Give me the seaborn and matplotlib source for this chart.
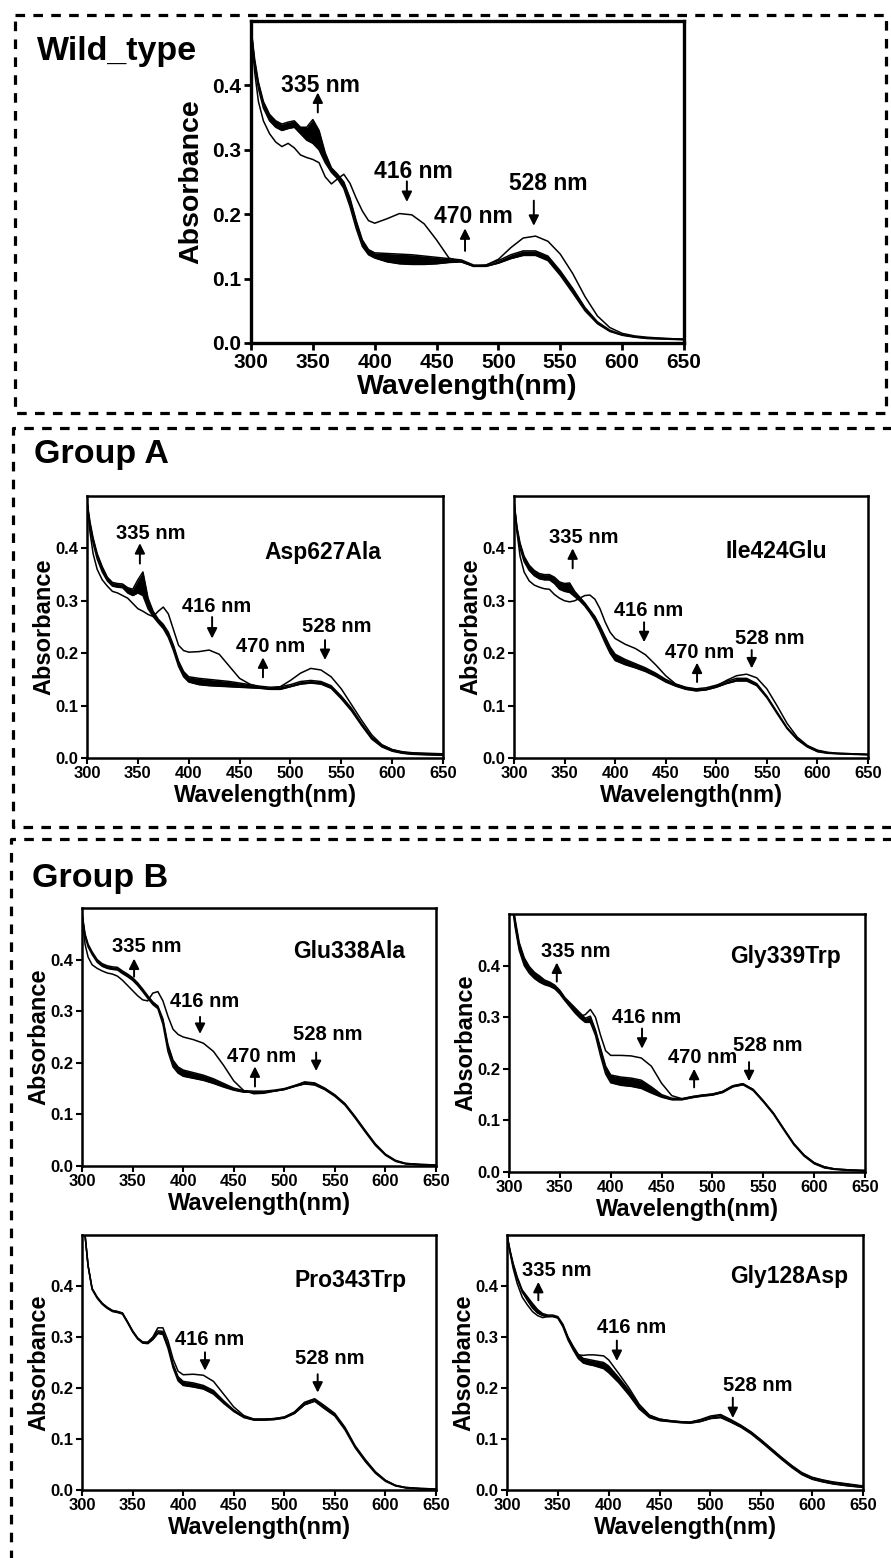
import pandas as pd
import seaborn as sns
import matplotlib.pyplot as plt
from matplotlib.lines import Line2D

# shared wavelength grid (nm)
wavelength = [300, 303, 306, 310, 315, 320, 325, 330, 335, 340, 345, 350, 355,
              360, 365, 370, 375, 380, 385, 390, 395, 400,
              410, 420, 430, 440, 450, 460, 470, 480, 490, 500,
              510, 520, 530, 540, 550, 560, 570, 580, 590, 600,
              610, 620, 635, 650]
x_ticks = [300, 350, 400, 450, 500, 550, 600, 650]
y_ticks = [0.0, 0.1, 0.2, 0.3, 0.4]

# Wild type: upper / lower edge of the time series band, and the first scan
wt_hi = [0.490, 0.440, 0.405, 0.375, 0.355, 0.345, 0.340, 0.343, 0.345, 0.335, 0.335, 0.347, 0.330,
         0.295, 0.272, 0.262, 0.250, 0.225, 0.190, 0.160, 0.145, 0.140,
         0.139, 0.138, 0.137, 0.135, 0.133, 0.131, 0.129, 0.121, 0.121, 0.128,
         0.137, 0.143, 0.143, 0.135, 0.112, 0.085, 0.055, 0.033, 0.020, 0.013,
         0.010, 0.008, 0.007, 0.006]
wt_lo = [0.490, 0.430, 0.395, 0.365, 0.345, 0.335, 0.330, 0.333, 0.335, 0.325, 0.315, 0.310, 0.300,
         0.280, 0.265, 0.255, 0.240, 0.212, 0.178, 0.150, 0.137, 0.132,
         0.126, 0.123, 0.122, 0.122, 0.123, 0.125, 0.126, 0.119, 0.119, 0.124,
         0.131, 0.136, 0.136, 0.128, 0.105, 0.078, 0.050, 0.030, 0.018, 0.012,
         0.009, 0.007, 0.006, 0.005]
wt_first = [0.490, 0.420, 0.375, 0.345, 0.325, 0.312, 0.305, 0.310, 0.303, 0.292, 0.288, 0.285, 0.280,
            0.258, 0.247, 0.255, 0.262, 0.248, 0.225, 0.205, 0.190, 0.186,
            0.193, 0.201, 0.199, 0.185, 0.160, 0.132, 0.126, 0.119, 0.121, 0.130,
            0.148, 0.163, 0.166, 0.158, 0.138, 0.108, 0.072, 0.042, 0.024, 0.015,
            0.011, 0.009, 0.007, 0.006]

# Group A
asp627_hi = [0.490, 0.450, 0.420, 0.390, 0.365, 0.345, 0.335, 0.333, 0.332, 0.325, 0.322, 0.340, 0.355,
             0.305, 0.280, 0.265, 0.255, 0.240, 0.215, 0.185, 0.165, 0.155,
             0.152, 0.150, 0.148, 0.146, 0.143, 0.140, 0.137, 0.135, 0.136, 0.140,
             0.146, 0.148, 0.146, 0.138, 0.118, 0.095, 0.066, 0.040, 0.025, 0.016,
             0.012, 0.010, 0.009, 0.008]
asp627_lo = [0.490, 0.440, 0.410, 0.380, 0.355, 0.338, 0.328, 0.326, 0.325, 0.315, 0.310, 0.315, 0.310,
             0.285, 0.270, 0.258, 0.247, 0.230, 0.205, 0.175, 0.155, 0.145,
             0.140, 0.138, 0.137, 0.136, 0.135, 0.134, 0.133, 0.131, 0.131, 0.136,
             0.141, 0.143, 0.141, 0.133, 0.113, 0.090, 0.062, 0.036, 0.021, 0.013,
             0.009, 0.007, 0.006, 0.005]
asp627_first = [0.490, 0.430, 0.390, 0.360, 0.340, 0.328, 0.318, 0.315, 0.310, 0.305, 0.295, 0.285, 0.280,
                0.274, 0.270, 0.280, 0.288, 0.275, 0.245, 0.215, 0.205, 0.202,
                0.203, 0.206, 0.198, 0.175, 0.152, 0.141, 0.135, 0.132, 0.136, 0.148,
                0.162, 0.171, 0.168, 0.155, 0.132, 0.102, 0.072, 0.044, 0.025, 0.016,
                0.011, 0.009, 0.008, 0.007]

ile424_hi = [0.490, 0.440, 0.410, 0.385, 0.368, 0.358, 0.352, 0.350, 0.350, 0.345, 0.336, 0.333, 0.334,
             0.318, 0.307, 0.296, 0.283, 0.270, 0.252, 0.232, 0.212, 0.198,
             0.188, 0.180, 0.172, 0.162, 0.150, 0.141, 0.135, 0.132, 0.134, 0.139,
             0.146, 0.152, 0.152, 0.142, 0.118, 0.088, 0.058, 0.037, 0.023, 0.014,
             0.010, 0.009, 0.008, 0.007]
ile424_lo = [0.490, 0.435, 0.400, 0.375, 0.358, 0.348, 0.342, 0.340, 0.340, 0.333, 0.322, 0.318, 0.316,
             0.308, 0.300, 0.290, 0.277, 0.262, 0.242, 0.220, 0.200, 0.186,
             0.178, 0.172, 0.165, 0.156, 0.145, 0.137, 0.131, 0.128, 0.130, 0.135,
             0.142, 0.147, 0.147, 0.138, 0.115, 0.085, 0.056, 0.035, 0.021, 0.012,
             0.009, 0.008, 0.007, 0.006]
ile424_first = [0.490, 0.430, 0.385, 0.355, 0.338, 0.330, 0.326, 0.323, 0.322, 0.312, 0.305, 0.300, 0.298,
                0.300, 0.305, 0.310, 0.311, 0.303, 0.285, 0.260, 0.240, 0.228,
                0.217, 0.209, 0.197, 0.178, 0.157, 0.141, 0.134, 0.130, 0.131, 0.137,
                0.148, 0.157, 0.160, 0.153, 0.132, 0.100, 0.066, 0.040, 0.024, 0.015,
                0.011, 0.009, 0.008, 0.007]

# Group B
glu338_hi = [0.490, 0.450, 0.430, 0.415, 0.400, 0.392, 0.388, 0.386, 0.385, 0.378, 0.372, 0.365, 0.355,
             0.343, 0.330, 0.318, 0.310, 0.285, 0.235, 0.205, 0.192, 0.186,
             0.181, 0.176, 0.169, 0.160, 0.151, 0.146, 0.145, 0.145, 0.147, 0.150,
             0.156, 0.162, 0.160, 0.150, 0.137, 0.120, 0.095, 0.068, 0.042, 0.022,
             0.010, 0.005, 0.003, 0.002]
glu338_lo = [0.490, 0.445, 0.425, 0.410, 0.395, 0.387, 0.383, 0.381, 0.380, 0.373, 0.367, 0.360, 0.350,
             0.338, 0.325, 0.313, 0.305, 0.275, 0.222, 0.192, 0.180, 0.174,
             0.170, 0.166, 0.160, 0.153, 0.147, 0.143, 0.143, 0.143, 0.145, 0.148,
             0.154, 0.159, 0.157, 0.148, 0.135, 0.118, 0.093, 0.066, 0.040, 0.021,
             0.009, 0.004, 0.002, 0.001]
glu338_first = [0.490, 0.430, 0.405, 0.390, 0.383, 0.378, 0.374, 0.372, 0.368, 0.360, 0.350, 0.340, 0.330,
                0.322, 0.320, 0.335, 0.338, 0.320, 0.290, 0.265, 0.255, 0.250,
                0.245, 0.238, 0.222, 0.195, 0.165, 0.146, 0.140, 0.141, 0.145, 0.149,
                0.155, 0.163, 0.161, 0.151, 0.138, 0.121, 0.096, 0.069, 0.043, 0.023,
                0.011, 0.005, 0.003, 0.002]

gly339_hi = [0.560, 0.530, 0.490, 0.445, 0.415, 0.398, 0.387, 0.380, 0.372, 0.368, 0.362, 0.352, 0.338,
             0.328, 0.318, 0.308, 0.298, 0.302, 0.275, 0.240, 0.205, 0.188,
             0.184, 0.182, 0.178, 0.165, 0.150, 0.143, 0.142, 0.146, 0.149, 0.151,
             0.156, 0.167, 0.171, 0.160, 0.138, 0.114, 0.084, 0.055, 0.033, 0.018,
             0.010, 0.006, 0.004, 0.003]
gly339_lo = [0.560, 0.520, 0.475, 0.430, 0.400, 0.385, 0.375, 0.368, 0.363, 0.360, 0.355, 0.345, 0.332,
             0.320, 0.308, 0.298, 0.290, 0.290, 0.265, 0.225, 0.190, 0.173,
             0.168, 0.166, 0.162, 0.153, 0.145, 0.140, 0.140, 0.144, 0.147, 0.149,
             0.154, 0.165, 0.169, 0.158, 0.136, 0.112, 0.082, 0.053, 0.031, 0.016,
             0.008, 0.005, 0.003, 0.002]
gly339_first = [0.560, 0.525, 0.480, 0.435, 0.405, 0.390, 0.380, 0.372, 0.366, 0.362, 0.357, 0.347, 0.334,
                0.323, 0.312, 0.302, 0.305, 0.315, 0.300, 0.265, 0.235, 0.226,
                0.226, 0.225, 0.221, 0.205, 0.172, 0.148, 0.142, 0.146, 0.149, 0.151,
                0.156, 0.167, 0.171, 0.160, 0.138, 0.114, 0.084, 0.055, 0.033, 0.018,
                0.010, 0.006, 0.004, 0.003]

pro343_hi = [0.560, 0.500, 0.440, 0.395, 0.378, 0.366, 0.358, 0.352, 0.350, 0.347, 0.330, 0.312, 0.298,
             0.290, 0.289, 0.298, 0.312, 0.311, 0.285, 0.247, 0.222, 0.213,
             0.210, 0.205, 0.195, 0.175, 0.157, 0.144, 0.139, 0.139, 0.140, 0.143,
             0.152, 0.170, 0.177, 0.162, 0.148, 0.121, 0.085, 0.058, 0.035, 0.019,
             0.009, 0.005, 0.003, 0.002]
pro343_lo = [0.560, 0.500, 0.440, 0.393, 0.376, 0.364, 0.356, 0.350, 0.348, 0.345, 0.328, 0.310, 0.296,
             0.288, 0.287, 0.295, 0.307, 0.305, 0.278, 0.240, 0.214, 0.205,
             0.202, 0.198, 0.188, 0.170, 0.154, 0.142, 0.137, 0.137, 0.138, 0.141,
             0.150, 0.167, 0.174, 0.159, 0.145, 0.118, 0.083, 0.056, 0.033, 0.017,
             0.008, 0.004, 0.002, 0.001]
pro343_first = [0.560, 0.500, 0.440, 0.395, 0.378, 0.366, 0.358, 0.352, 0.350, 0.347, 0.330, 0.312, 0.298,
                0.290, 0.290, 0.300, 0.318, 0.318, 0.293, 0.257, 0.233, 0.226,
                0.227, 0.225, 0.213, 0.188, 0.163, 0.146, 0.139, 0.139, 0.140, 0.143,
                0.153, 0.172, 0.179, 0.165, 0.150, 0.123, 0.087, 0.060, 0.036, 0.019,
                0.009, 0.005, 0.003, 0.002]

gly128_hi = [0.500, 0.470, 0.445, 0.418, 0.392, 0.379, 0.366, 0.354, 0.346, 0.343, 0.343, 0.340, 0.325,
             0.300, 0.282, 0.266, 0.258, 0.256, 0.254, 0.252, 0.250, 0.243,
             0.220, 0.195, 0.165, 0.146, 0.139, 0.136, 0.134, 0.133, 0.137, 0.143,
             0.146, 0.136, 0.126, 0.113, 0.097, 0.080, 0.063, 0.047, 0.033, 0.024,
             0.019, 0.015, 0.011, 0.007]
gly128_lo = [0.500, 0.468, 0.440, 0.414, 0.388, 0.372, 0.357, 0.347, 0.342, 0.340, 0.340, 0.337, 0.320,
             0.294, 0.275, 0.258, 0.249, 0.246, 0.244, 0.241, 0.238, 0.230,
             0.210, 0.186, 0.159, 0.142, 0.136, 0.134, 0.132, 0.131, 0.134, 0.140,
             0.142, 0.133, 0.123, 0.110, 0.094, 0.077, 0.060, 0.044, 0.030, 0.021,
             0.016, 0.012, 0.008, 0.005]
gly128_first = [0.500, 0.465, 0.435, 0.405, 0.378, 0.363, 0.350, 0.342, 0.338, 0.340, 0.341, 0.338, 0.322,
                0.298, 0.280, 0.265, 0.264, 0.265, 0.265, 0.264, 0.263, 0.255,
                0.228, 0.200, 0.168, 0.147, 0.139, 0.136, 0.134, 0.133, 0.138, 0.145,
                0.148, 0.138, 0.127, 0.114, 0.098, 0.081, 0.064, 0.048, 0.034, 0.025,
                0.020, 0.016, 0.012, 0.008]

# layout: axes box in pixels (left, right, top, bottom), mutant label + position,
# and arrow annotations (text, text_x, text_y, arrow_x, arrow_from, arrow_to)
panels = [
    dict(series=(wt_hi, wt_lo, wt_first), box=(251, 684, 21, 343), big=True,
         name=None,
         notes=[("335 nm", 356, 0.400, 354, 0.358, 0.389),
                ("416 nm", 431, 0.266, 426, 0.251, 0.219),
                ("470 nm", 479.5, 0.196, 473, 0.143, 0.178),
                ("528 nm", 540, 0.248, 528.6, 0.221, 0.182)]),
    dict(series=(asp627_hi, asp627_lo, asp627_first), box=(87, 443, 496, 758), big=False,
         name=("Asp627Ala", 532, 0.392),
         notes=[("335 nm", 363, 0.428, 352, 0.371, 0.410),
                ("416 nm", 427, 0.290, 423, 0.269, 0.228),
                ("470 nm", 481, 0.212, 473, 0.154, 0.192),
                ("528 nm", 546, 0.251, 534, 0.225, 0.187)]),
    dict(series=(ile424_hi, ile424_lo, ile424_first), box=(514, 868, 496, 758), big=False,
         name=("Ile424Glu", 559, 0.394),
         notes=[("335 nm", 369, 0.421, 358, 0.362, 0.400),
                ("416 nm", 433.5, 0.282, 428.6, 0.259, 0.221),
                ("470 nm", 484, 0.202, 481, 0.145, 0.182),
                ("528 nm", 553, 0.229, 535, 0.206, 0.171)]),
    dict(series=(glu338_hi, glu338_lo, glu338_first), box=(82, 436, 908, 1166), big=False,
         name=("Glu338Ala", 564, 0.415),
         notes=[("335 nm", 364, 0.425, 351.5, 0.367, 0.402),
                ("416 nm", 421.7, 0.318, 416.7, 0.289, 0.256),
                ("470 nm", 478, 0.213, 471, 0.154, 0.193),
                ("528 nm", 543, 0.254, 531.5, 0.220, 0.184)]),
    dict(series=(gly339_hi, gly339_lo, gly339_first), box=(509, 865, 914, 1172), big=False,
         name=("Gly339Trp", 572, 0.418),
         notes=[("335 nm", 366, 0.427, 347, 0.369, 0.406),
                ("416 nm", 435.7, 0.300, 430.8, 0.278, 0.239),
                ("470 nm", 490, 0.221, 482, 0.164, 0.200),
                ("528 nm", 554.6, 0.245, 536, 0.213, 0.176)]),
    dict(series=(pro343_hi, pro343_lo, pro343_first), box=(82, 436, 1235, 1490), big=False,
         name=("Pro343Trp", 565.5, 0.411),
         notes=[("416 nm", 425.9, 0.296, 421.6, 0.270, 0.234),
                ("528 nm", 545, 0.258, 533, 0.227, 0.191)]),
    dict(series=(gly128_hi, gly128_lo, gly128_first), box=(507, 863, 1235, 1490), big=False,
         name=("Gly128Asp", 577.5, 0.418),
         notes=[("335 nm", 348.5, 0.431, 330.8, 0.372, 0.408),
                ("416 nm", 423, 0.318, 408, 0.293, 0.253),
                ("528 nm", 546.7, 0.205, 522, 0.181, 0.141)]),
]

W, H = 891, 1558
sns.set_theme(style="ticks")
plt.rcParams["font.family"] = ["Liberation Sans", "DejaVu Sans"]
plt.rcParams["font.weight"] = "bold"
plt.rcParams["axes.labelweight"] = "bold"
for key in ("text.color", "axes.labelcolor", "xtick.color", "ytick.color",
            "xtick.labelcolor", "ytick.labelcolor", "axes.edgecolor"):
    plt.rcParams[key] = "black"

fig = plt.figure(figsize=(W / 100, H / 100), dpi=100)
fig.patch.set_facecolor("white")


def fx(px):
    return px / W


def fy(py):
    return 1 - py / H


for p in panels:
    l, r, t, b = p["box"]
    ax = fig.add_axes([fx(l), fy(b), fx(r - l), (b - t) / H])
    hi, lo, first = p["series"]
    df = pd.DataFrame({
        "wl": wavelength * 3,
        "A": hi + lo + first,
        "trace": ["hi"] * len(hi) + ["lo"] * len(lo) + ["first"] * len(first),
    })
    ax.fill_between(wavelength, lo, hi, color="black", lw=0)
    sns.lineplot(data=df, x="wl", y="A", units="trace", estimator=None,
                 color="black", linewidth=1.1, sort=False, legend=False, ax=ax)

    big = p["big"]
    tick_fs = 15 if big else 12
    lab_fs = 20.5 if big else 17
    note_fs = 16.5 if big else 14.5
    ax.set_xlim(300, 650)
    ax.set_ylim(0, 0.5)
    ax.set_xticks(x_ticks)
    ax.set_yticks(y_ticks)
    ax.set_yticklabels([f"{v:.1f}" for v in y_ticks])
    ax.tick_params(direction="out", length=5 if big else 4, width=2 if big else 1.5,
                   labelsize=tick_fs, pad=2, top=False, right=False,
                   color="black", labelcolor="black")
    for s in ax.spines.values():
        s.set_linewidth(2.4 if big else 1.8)
        s.set_color("black")
    ax.set_xlabel("Wavelength(nm)", fontsize=lab_fs, labelpad=2, color="black")
    ax.set_ylabel("Absorbance", fontsize=lab_fs, labelpad=6 if big else 0.5, color="black")

    if p["name"] is not None:
        txt, tx, ty = p["name"]
        ax.text(tx, ty, txt, fontsize=16.5, fontweight="bold", ha="center", va="center",
                color="black")
    for txt, tx, ty, axx, y0, y1 in p["notes"]:
        ax.text(tx, ty, txt, fontsize=note_fs, fontweight="bold", ha="center", va="center",
                color="black")
        ax.annotate("", xy=(axx, y1), xytext=(axx, y0),
                    arrowprops=dict(arrowstyle="-|>,head_length=0.6,head_width=0.3",
                                    color="black", lw=1.4, shrinkA=0, shrinkB=0,
                                    mutation_scale=10))

# group titles
fig.text(fx(37), fy(60), "Wild_type", fontsize=24.5, fontweight="bold", va="baseline", color="black")
fig.text(fx(34), fy(463), "Group A", fontsize=24.5, fontweight="bold", va="baseline", color="black")
fig.text(fx(32), fy(887), "Group B", fontsize=24.5, fontweight="bold", va="baseline", color="black")

# dashed frames around the groups
frames = [
    [(15, 15), (886, 15), (886, 413), (15, 413), (15, 15)],
    [(900, 428), (13, 428), (13, 827), (900, 827)],
    [(900, 839), (11, 839), (11, 1570)],
]
for pts in frames:
    xs = [fx(x) for x, _ in pts]
    ys = [fy(y) for _, y in pts]
    fig.add_artist(Line2D(xs, ys, transform=fig.transFigure, color="black",
                          lw=2.3, linestyle=(0, (3, 2.6)), clip_on=False))

fig.savefig("out.png", dpi=100, facecolor="white")
